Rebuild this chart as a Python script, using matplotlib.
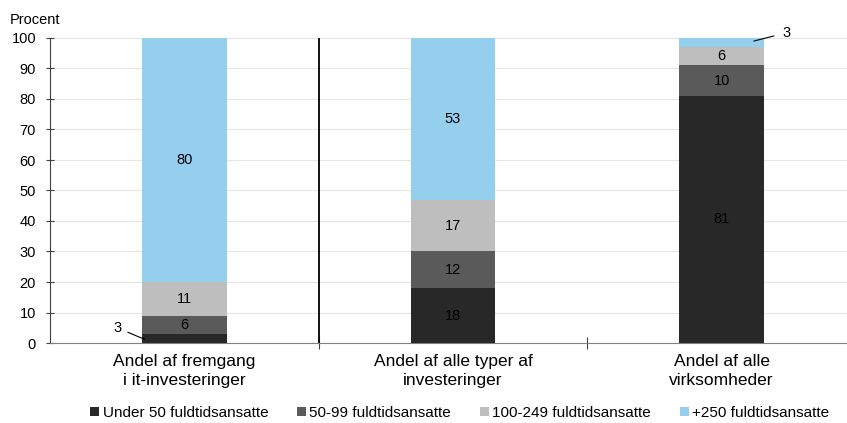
import matplotlib.pyplot as plt
import numpy as np

plt.rcParams['font.family'] = ['Liberation Sans', 'DejaVu Sans']

categories = ['Andel af fremgang\ni it-investeringer',
              'Andel af alle typer af\ninvesteringer',
              'Andel af alle\nvirksomheder']
series = ['Under 50 fuldtidsansatte', '50-99 fuldtidsansatte',
          '100-249 fuldtidsansatte', '+250 fuldtidsansatte']
under50 = [3, 18, 81]
s50_99 = [6, 12, 10]
s100_249 = [11, 17, 6]
s250 = [80, 53, 3]
colors = ['#282828', '#5a5a5a', '#bebebe', '#95cfee']

fig = plt.figure(figsize=(8.47, 4.23), dpi=100)
ax = fig.add_axes([50/847, 80/423, 806/847, 305/423])

x = np.arange(len(categories))
width = 0.316
bottom = np.zeros(len(categories))
for vals, name, col in zip([under50, s50_99, s100_249, s250], series, colors):
    vals = np.array(vals, dtype=float)
    ax.bar(x, vals, width, bottom=bottom, color=col, label=name, zorder=3)
    for i, v in enumerate(vals):
        if v >= 5:
            ax.text(x[i], bottom[i] + v / 2, f'{v:.0f}', ha='center', va='center',
                    fontsize=10.5, color='#000000', zorder=4)
    bottom += vals

# small segments get a label with a leader line
ax.annotate('3', xy=(x[0] - width / 2 + 0.01, under50[0] / 2 - 0.3), xytext=(-0.25, 5),
            ha='center', va='center', fontsize=10.5,
            arrowprops=dict(arrowstyle='-', color='black', lw=0.8,
                            shrinkA=3, shrinkB=0), zorder=5)
ax.annotate('3', xy=(x[2] + 0.12, 99.0), xytext=(2.24, 101.7),
            ha='center', va='center', fontsize=10.5, annotation_clip=False,
            arrowprops=dict(arrowstyle='-', color='black', lw=0.8,
                            shrinkA=4, shrinkB=0), zorder=5)

ax.axvline(0.5, color='black', lw=1.3, zorder=4)

ax.set_xlim(-0.5, 2.5)
ax.set_ylim(0, 100)
ax.set_yticks(np.arange(0, 101, 10))
ax.set_xticks([0.5, 1.5])
ax.set_xticklabels([])
ax.set_xticks(x, minor=True)
ax.set_xticklabels(categories, minor=True, fontsize=12.5, linespacing=1.3)
ax.tick_params(axis='x', which='minor', length=0, pad=8)
ax.tick_params(axis='x', which='major', direction='inout', length=8, color='#404040')
ax.tick_params(axis='y', direction='inout', length=6, labelsize=10.5, pad=7,
               color='#404040')
ax.yaxis.grid(True, color='#e6e6e6', lw=0.8, zorder=0)
for s in ['top', 'right']:
    ax.spines[s].set_visible(False)
ax.spines['left'].set_color('#404040')
ax.spines['bottom'].set_color('#808080')

fig.text(10/847, 1 - 20/423, 'Procent', fontsize=10.5, va='center')

fig.legend(loc='center', bbox_to_anchor=(460/847, 1 - 413/423), ncol=4, frameon=False,
           fontsize=11, handlelength=0.55, handleheight=0.55, handletextpad=0.25,
           columnspacing=1.9)

fig.savefig('out.png', dpi=100)
